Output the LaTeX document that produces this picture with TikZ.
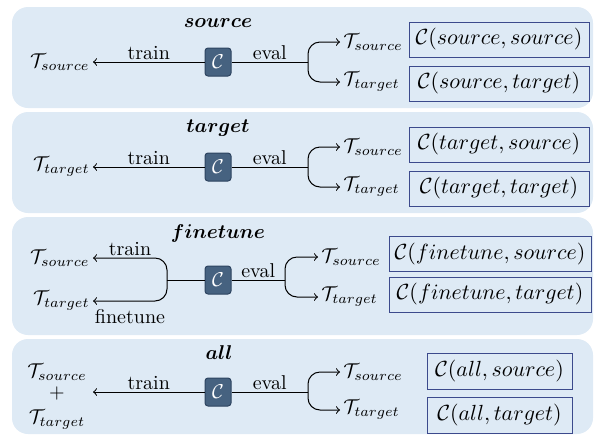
\documentclass[tikz,border=0pt]{standalone}
\usepackage{amsmath}
\usepackage{bm}
\usetikzlibrary{arrows.meta}
\definecolor{panelfill}{RGB}{222,234,245}
\definecolor{cfill}{RGB}{70,98,128}
\definecolor{cborder}{RGB}{45,68,96}
\definecolor{boxborder}{RGB}{60,74,140}
\tikzset{
  panel/.style={fill=panelfill, draw=none, rounded corners=8pt},
  cbox/.style={fill=cfill, draw=cborder, line width=0.5pt, rounded corners=1.5pt, minimum width=13pt, minimum height=14pt, inner sep=0pt, text=white},
  resbox/.style={draw=boxborder, line width=0.5pt, fill=panelfill, minimum height=17.5pt, inner sep=1.5pt, font=\fontsize{11.4}{14}\selectfont},
  conn/.style={line width=0.5pt},
  arr/.style={line width=0.5pt, -to},
  lbl/.style={inner sep=1pt},
  ttl/.style={inner sep=1pt},
  tnode/.style={inner sep=1.5pt},
}
\begin{document}
\begin{tikzpicture}[x=0.5pt,y=-0.5pt]
\useasboundingbox (0,0) rectangle (595,435);
% panels
\fill[panel] (12,7) rectangle (593,108);
\fill[panel] (12,112) rectangle (593,213);
\fill[panel] (12,217) rectangle (593,335);
\fill[panel] (12,339) rectangle (593,434);

% ---------- panel 1: source
\node[ttl] (t1) at (218,23) {$\bm{source}$};
\node[cbox] (c1) at (218,62) {$\mathcal{C}$};
\node[tnode, anchor=east] (l1) at (93,62) {$\mathcal{T}_{source}$};
\draw[arr] (c1.west) -- (c1.west -| l1.east) node[lbl, midway, above] {train};
\coordinate (b1) at (308,62);
\draw[conn] (c1.east) -- (b1) node[lbl, midway, above] {eval};
\node[tnode, anchor=west] (s1) at (340,42) {$\mathcal{T}_{source}$};
\node[tnode, anchor=west] (g1) at (340,82) {$\mathcal{T}_{target}$};
\draw[arr, rounded corners=6pt] (b1) |- (s1.west);
\draw[arr, rounded corners=6pt] (b1) |- (g1.west);
\node[resbox, minimum width=90pt] (r1a) at (499,39.5) {$\mathcal{C}(source,source)$};
\node[resbox, minimum width=90pt] (r1b) at (499,83.5) {$\mathcal{C}(source,target)$};

% ---------- panel 2: target
\node[ttl] (t2) at (218,128) {$\bm{target}$};
\node[cbox] (c2) at (218,167) {$\mathcal{C}$};
\node[tnode, anchor=east] (l2) at (93,167) {$\mathcal{T}_{target}$};
\draw[arr] (c2.west) -- (c2.west -| l2.east) node[lbl, midway, above] {train};
\coordinate (b2) at (308,167);
\draw[conn] (c2.east) -- (b2) node[lbl, midway, above] {eval};
\node[tnode, anchor=west] (s2) at (340,147) {$\mathcal{T}_{source}$};
\node[tnode, anchor=west] (g2) at (340,187) {$\mathcal{T}_{target}$};
\draw[arr, rounded corners=6pt] (b2) |- (s2.west);
\draw[arr, rounded corners=6pt] (b2) |- (g2.west);
\node[resbox, minimum width=90pt] (r2a) at (499,144.5) {$\mathcal{C}(target,source)$};
\node[resbox, minimum width=90pt] (r2b) at (499,188.5) {$\mathcal{C}(target,target)$};

% ---------- panel 3: finetune
\node[ttl] (t3) at (218,233) {$\bm{finetune}$};
\node[cbox] (c3) at (218,280) {$\mathcal{C}$};
\node[tnode, anchor=east] (l3a) at (93,258) {$\mathcal{T}_{source}$};
\node[tnode, anchor=east] (l3b) at (93,301) {$\mathcal{T}_{target}$};
\coordinate (a3) at (167,280);
\draw[conn] (c3.west) -- (a3);
\draw[arr, rounded corners=6pt] (a3) |- (l3a.east) node[lbl, pos=0.75, above] {train};
\draw[arr, rounded corners=6pt] (a3) |- (l3b.east) node[lbl, pos=0.75, below, yshift=-3pt] {finetune};
\coordinate (b3) at (285,280);
\draw[conn] (c3.east) -- (b3) node[lbl, midway, above] {eval};
\node[tnode, anchor=west] (s3) at (318,257) {$\mathcal{T}_{source}$};
\node[tnode, anchor=west] (g3) at (318,297) {$\mathcal{T}_{target}$};
\draw[arr, rounded corners=6pt] (b3) |- (s3.west);
\draw[arr, rounded corners=6pt] (b3) |- (g3.west);
\node[resbox, minimum width=101pt] (r3a) at (490,254) {$\mathcal{C}(finetune,source)$};
\node[resbox, minimum width=101pt] (r3b) at (490,294.5) {$\mathcal{C}(finetune,target)$};

% ---------- panel 4: all
\node[ttl] (t4) at (219,353) {$\bm{all}$};
\node[cbox] (c4) at (218,392) {$\mathcal{C}$};
\node[tnode] (l4a) at (57,372) {$\mathcal{T}_{source}$};
\node[tnode] (l4p) at (57,393) {$+$};
\node[tnode] (l4b) at (57,420) {$\mathcal{T}_{target}$};
\coordinate (e4) at (93,392);
\draw[arr] (c4.west) -- (e4) node[lbl, midway, above] {train};
\coordinate (b4) at (308,392);
\draw[conn] (c4.east) -- (b4) node[lbl, midway, above] {eval};
\node[tnode, anchor=west] (s4) at (340,372) {$\mathcal{T}_{source}$};
\node[tnode, anchor=west] (g4) at (340,410) {$\mathcal{T}_{target}$};
\draw[arr, rounded corners=6pt] (b4) |- (s4.west);
\draw[arr, rounded corners=6pt] (b4) |- (g4.west);
\node[resbox, minimum width=72.5pt, minimum height=18pt] (r4a) at (499.5,371) {$\mathcal{C}(all,source)$};
\node[resbox, minimum width=72.5pt, minimum height=18pt] (r4b) at (499.5,415) {$\mathcal{C}(all,target)$};
\end{tikzpicture}
\end{document}
